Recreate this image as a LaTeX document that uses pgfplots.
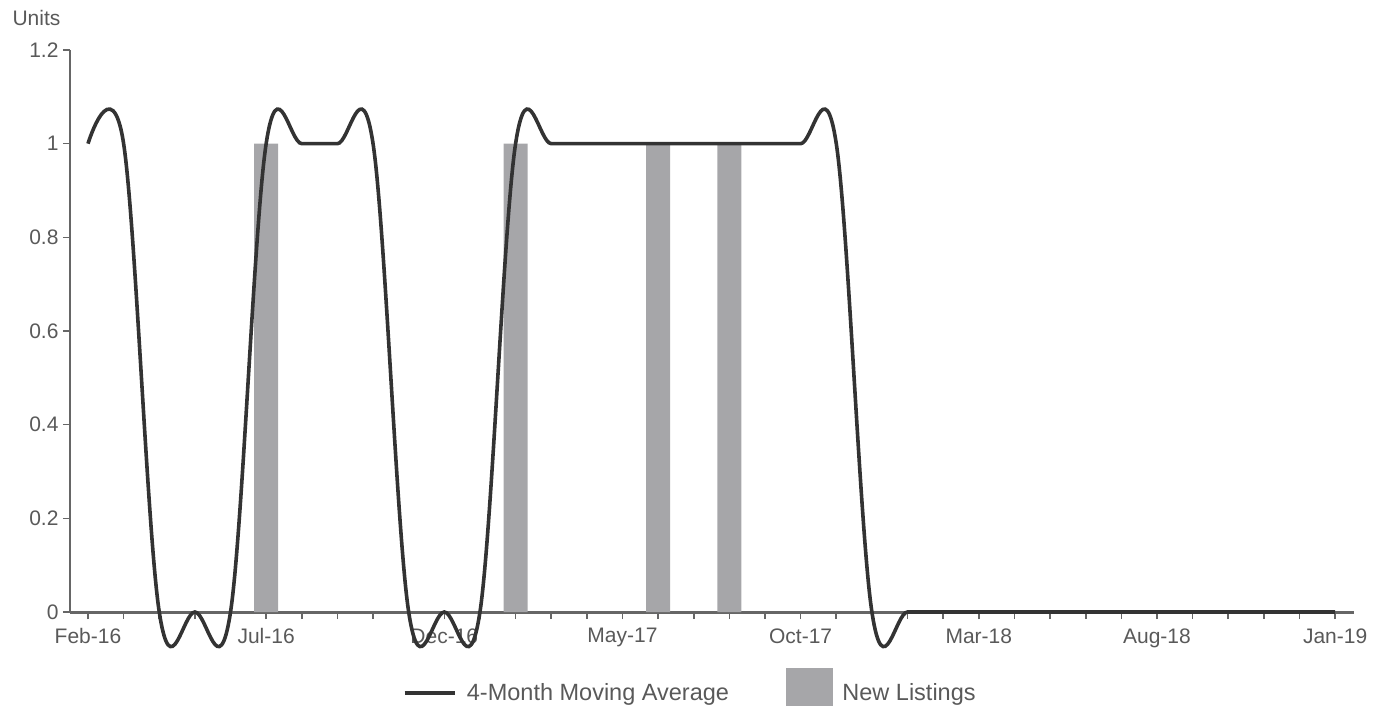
\documentclass[border=0pt]{standalone}
\usepackage{fontspec}
\setmainfont{Liberation Sans}
\usepackage{pgfplots}
\pgfplotsset{compat=1.18}
\definecolor{txt}{HTML}{595959}
\definecolor{linec}{HTML}{333333}
\definecolor{barc}{HTML}{A6A6A9}
\definecolor{axc}{HTML}{666666}
\begin{document}
\begin{tikzpicture}
\begin{axis}[
  name=ax,
  scale only axis, width=1284pt, height=562pt,
  xmin=-0.505, xmax=35.53, ymin=0, ymax=1.2,
  clip=false,
  axis x line*=bottom, axis y line*=left,
  x axis line style={axc, line width=3pt},
  y axis line style={axc, line width=2pt},
  xtick={0,5,...,35},
  xticklabels={Feb-16,Jul-16,Dec-16,May-17,Oct-17,Mar-18,Aug-18,Jan-19},
  minor xtick={0,...,35},
  ytick={0,0.2,0.4,0.6,0.8,1,1.2},
  yticklabels={0,0.2,0.4,0.6,0.8,1,1.2},
  tick align=outside, major tick length=7pt, minor tick length=7pt,
  every tick/.style={axc, line width=1.6pt},
  minor tick style={axc, line width=1.6pt},
  ticklabel style={font=\fontsize{21}{24}\selectfont, text=txt},
  xticklabel style={yshift=-6pt},
  yticklabel style={xshift=-1pt},
  legend style={at={(0.4829,-0.1406)}, anchor=center, draw=none, fill=none,
    legend columns=2, font=\fontsize{23.5}{26}\selectfont, text=txt,
    /tikz/every odd column/.append style={column sep=8pt},
    /tikz/every even column/.append style={column sep=55pt}},
  legend cell align=left,
]
\addplot[ybar, bar width=0.67, fill=barc, draw=none, forget plot]
  coordinates {(5,1) (12,1) (16,1) (18,1)};
\addplot[linec, line width=3.6pt, smooth, tension=0.6, forget plot]
  coordinates {
  (0,1) (1,1) (2,0) (3,0) (4,0) (5,1) (6,1) (7,1) (8,1) (9,0)
  (10,0) (11,0) (12,1) (13,1) (14,1) (15,1) (16,1) (17,1) (18,1) (19,1)
  (20,1) (21,1) (22,0) (23,0) (24,0) (25,0) (26,0) (27,0) (28,0) (29,0)
  (30,0) (31,0) (32,0) (33,0) (34,0) (35,0)};
\addlegendimage{legend image code/.code={\draw[linec, line width=4.5pt] (0pt,0pt) -- (50pt,0pt);}}
\addlegendentry{4-Month Moving Average}
\addlegendimage{legend image code/.code={\fill[barc] (0pt,-21pt) rectangle (46pt,25pt);}}
\addlegendentry{New Listings}
\end{axis}
\node[anchor=west, font=\fontsize{21}{24}\selectfont, text=txt] at ([xshift=-61pt,yshift=32pt]ax.north west) {Units};
\pgfresetboundingbox
\path ([xshift=-70pt,yshift=-94pt]ax.south west) rectangle ++(1383pt,706pt);
\end{tikzpicture}
\end{document}
